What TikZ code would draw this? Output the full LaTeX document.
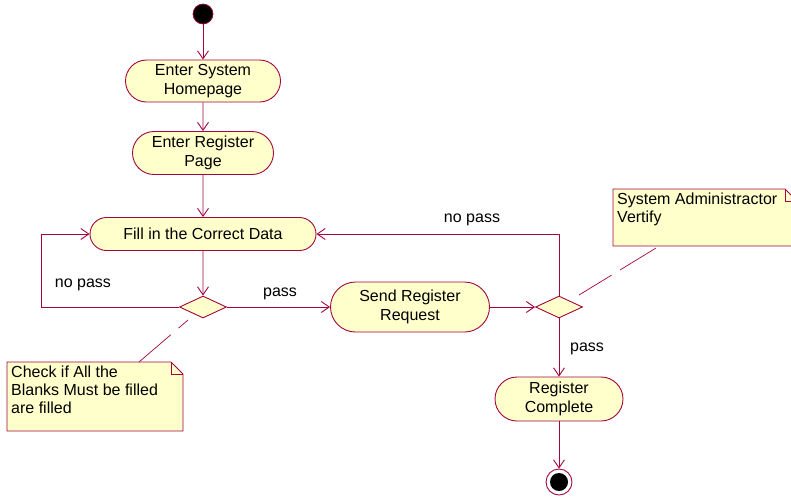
\documentclass[tikz,border=0pt]{standalone}
\usepackage{fontspec}
\setmainfont{Liberation Sans}
\usetikzlibrary{shapes.misc,shapes.geometric,arrows.meta}
\definecolor{umlline}{HTML}{A3053F}
\definecolor{umlfill}{HTML}{FFFFCC}
\tikzset{
  activity/.style={rounded rectangle, draw=umlline, fill=umlfill, line width=0.9pt,
    align=center, font=\fontsize{16}{19.5}\selectfont, inner sep=0pt},
  decision/.style={diamond, draw=umlline, fill=umlfill, line width=0.9pt,
    minimum width=47pt, minimum height=22pt, inner sep=0pt, aspect=2.1},
  flow/.style={draw=umlline, line width=0.9pt, -{Straight Barb[length=8pt,width=11pt,line width=0.9pt]}},
  guard/.style={font=\fontsize{16}{19}\selectfont, inner sep=0pt},
  notetext/.style={font=\fontsize{16}{18}\selectfont, align=left, inner sep=0pt, anchor=north west},
  notebox/.style={draw=umlline, fill=umlfill, line width=0.9pt},
  notelink/.style={draw=umlline, line width=0.7pt, dash pattern=on 42pt off 10pt}
}
\begin{document}
\begin{tikzpicture}[x=1pt,y=-1pt]
\useasboundingbox (0,0) rectangle (791,499);

% start and end states
\node (start) [circle, fill=black, draw=umlline, line width=0.7pt, minimum size=20pt, inner sep=0pt] at (203,14) {};
\node (endring) [circle, draw=umlline, fill=white, line width=0.9pt, minimum size=26pt, inner sep=0pt] at (559,482) {};
\node (end) [circle, fill=black, minimum size=18pt, inner sep=0pt] at (559,482) {};

% activities
\node (home) [activity, minimum width=155pt, minimum height=42pt] at (203,81) {Enter System\\Homepage};
\node (regpage) [activity, minimum width=141pt, minimum height=43pt] at (203,153) {Enter Register\\Page};
\node (fill) [activity, minimum width=226pt, minimum height=33pt] at (203,234) {Fill in the Correct Data};
\node (send) [activity, minimum width=159pt, minimum height=50pt] at (410,307) {Send Register\\Request};
\node (done) [activity, minimum width=128pt, minimum height=44pt] at (559,399) {Register\\Complete};

% decisions
\node (check) [decision] at (203,307) {};
\node (verify) [decision] at (559,307) {};

% turning points of the loops
\coordinate (leftA) at (41,307);
\coordinate (leftB) at (41,234);
\coordinate (rightA) at (559,234);

% flows
\draw[flow] (start) -- (home);
\draw[flow] (home) -- (regpage);
\draw[flow] (regpage) -- (fill);
\draw[flow] (fill) -- (check);
\draw[flow] (check.west) -- (leftA) -- (leftB) -- (fill.west);
\draw[flow] (check.east) -- (send.west);
\draw[flow] (send.east) -- (verify.west);
\draw[flow] (verify.north) -- (rightA) -- (fill.east);
\draw[flow] (verify.south) -- (done.north);
\draw[flow] (done.south) -- (endring.north);

% guards
\node[guard] (g1) at (83,285) {no pass};
\node[guard] (g2) at (280,294) {pass};
\node[guard] (g3) at (472,220) {no pass};
\node[guard] (g4) at (587,349) {pass};

% note on the first decision
\path[notebox] (7,362) -- (171,362) -- (183,374) -- (183,431) -- (7,431) -- cycle;
\draw[umlline, line width=0.7pt] (171,362) -- (171,374) -- (183,374);
\node[notetext] (note1) at (11,366) {Check if All the\\Blanks Must be filled\\are filled};
\coordinate (n1a) at (139,362);
\coordinate (n1b) at (188,320);
\draw[notelink] (n1a) -- (n1b);

% note on the second decision
\path[notebox] (613,189) -- (785,189) -- (797,201) -- (797,246) -- (613,246) -- cycle;
\draw[umlline, line width=0.7pt] (785,189) -- (785,201) -- (797,201);
\node[notetext] (note2) at (617,193) {System Administractor\\Vertify};
\coordinate (n2a) at (656,248);
\coordinate (n2b) at (579,295);
\draw[notelink] (n2a) -- (n2b);
\end{tikzpicture}
\end{document}
